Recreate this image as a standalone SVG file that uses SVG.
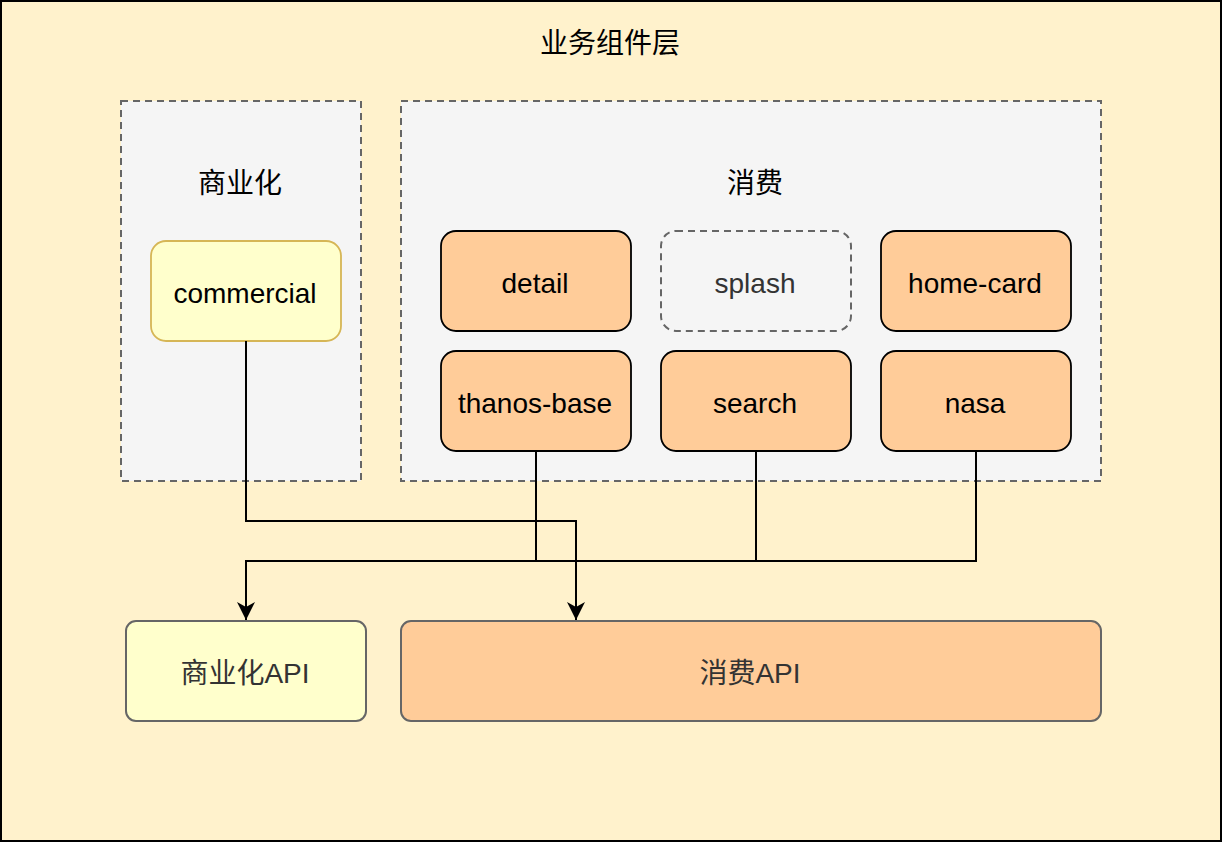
<svg xmlns="http://www.w3.org/2000/svg" width="1222" height="842" viewBox="0 0 1222 842">
<defs>
<style>
text{font-family:"Liberation Sans","Noto Sans CJK SC",sans-serif;text-anchor:middle;dominant-baseline:central;fill:#000}
.cont{fill:#f5f5f5;stroke:#666;stroke-width:2;stroke-dasharray:7 5}
.biz{fill:#ffcc99;stroke:#000;stroke-width:1.8}
.com{fill:#ffffcc;stroke:#d6b656;stroke-width:1.8}
.lbl{font-size:28px}
.hdr{font-size:28px}
.conn{fill:none;stroke:#000;stroke-width:2}
</style>
<marker id="arr" viewBox="0 0 18 19" refX="18" refY="9" markerWidth="18" markerHeight="19" markerUnits="userSpaceOnUse" orient="auto">
<path d="M0,0 L18,9 L0,18 L5,9 Z" fill="#000"/>
</marker>
</defs>
<g id="frame">
<rect x="1" y="1" width="1220" height="840" fill="#fff2cc" stroke="#000" stroke-width="2"/>
<text class="hdr" x="610" y="43">业务组件层</text>
</g>
<g id="commercial-group">
<rect class="cont" x="121" y="101" width="240" height="380"/>
<text class="hdr" x="240" y="183">商业化</text>
</g>
<g id="consume-group">
<rect class="cont" x="401" y="101" width="700" height="380"/>
<text class="hdr" x="755" y="183">消费</text>
</g>
<g id="commercial">
<rect class="com" x="151" y="241" width="190" height="100" rx="15"/>
<text class="lbl" x="245" y="293">commercial</text>
</g>
<g id="detail">
<rect class="biz" x="441" y="231" width="190" height="100" rx="15"/>
<text class="lbl" x="535" y="283">detail</text>
</g>
<g id="splash">
<rect x="661" y="231" width="190" height="100" rx="15" fill="#f5f5f5" stroke="#666" stroke-width="2" stroke-dasharray="7 5"/>
<text class="lbl" x="755" y="283" style="fill:#333">splash</text>
</g>
<g id="home-card">
<rect class="biz" x="881" y="231" width="190" height="100" rx="15"/>
<text class="lbl" x="975" y="283">home-card</text>
</g>
<g id="thanos-base">
<rect class="biz" x="441" y="351" width="190" height="100" rx="15"/>
<text class="lbl" x="535" y="403">thanos-base</text>
</g>
<g id="search">
<rect class="biz" x="661" y="351" width="190" height="100" rx="15"/>
<text class="lbl" x="755" y="403">search</text>
</g>
<g id="nasa">
<rect class="biz" x="881" y="351" width="190" height="100" rx="15"/>
<text class="lbl" x="975" y="403">nasa</text>
</g>
<g id="commercial-api">
<rect x="126" y="621" width="240" height="100" rx="10" fill="#ffffcc" stroke="#666" stroke-width="2"/>
<text class="lbl" x="245" y="673" style="fill:#333">商业化API</text>
</g>
<g id="consume-api">
<rect x="401" y="621" width="700" height="100" rx="10" fill="#ffcc99" stroke="#666" stroke-width="2"/>
<text class="lbl" x="750" y="673" style="fill:#333">消费API</text>
</g>
<g id="connectors">
<path class="conn" d="M246,341 V521 H576 V620" marker-end="url(#arr)"/>
<path class="conn" d="M536,451 V561 H246 V620" marker-end="url(#arr)"/>
<path class="conn" d="M756,451 V561 H536"/>
<path class="conn" d="M976,451 V561 H756"/>
</g>
</svg>
